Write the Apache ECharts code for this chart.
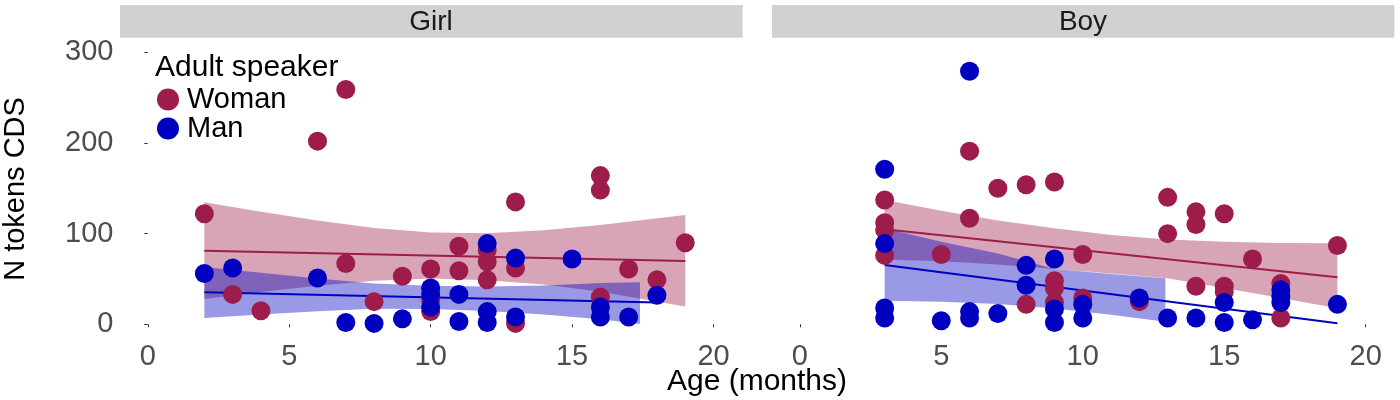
<!DOCTYPE html>
<html>
<head>
<meta charset="utf-8">
<script src="https://cdn.jsdelivr.net/npm/echarts@6/dist/echarts.min.js"></script>
<style>html,body{margin:0;padding:0;background:#fff}#c{width:1400px;height:400px}</style>
</head>
<body>
<div id="c"></div>
<script>
// ---------- data ----------
const panels = ['Girl', 'Boy'];
const speakers = ['Woman', 'Man'];
const xTicks = [0, 5, 10, 15, 20];
const yTicks = [0, 100, 200, 300];

// points [age, tokens]
const girlWoman = [[2,122],[3,33],[4,15],[6,202],[7,259],[7,67],[8,25],[9,53],[10,61],[10,27],[10,14],[11,86],[11,59],[12,82],[12,69],[12,49],[13,135],[13,62],[13,1],[16,164],[16,148],[16,30],[17,61],[18,49],[19,90]];
const girlMan = [[2,56],[3,62],[6,51],[7,2],[8,1],[9,6],[10,40],[10,33],[10,19],[11,33],[11,3],[12,89],[12,14],[12,2],[13,73],[13,8],[15,72],[16,19],[16,8],[17,8],[18,32]];
const boyWoman = [[3,137],[3,112],[3,104],[3,76],[5,77],[6,191],[6,117],[7,150],[8,154],[8,22],[9,157],[9,48],[9,40],[9,24],[10,77],[10,29],[12,25],[13,140],[13,100],[14,124],[14,110],[14,42],[15,122],[15,42],[15,36],[16,72],[17,45],[17,7],[19,87]];
const boyMan = [[3,171],[3,89],[3,18],[3,7],[5,4],[6,279],[6,14],[6,7],[7,12],[8,65],[8,43],[9,72],[9,17],[9,2],[10,22],[10,7],[12,29],[13,7],[14,7],[15,24],[15,2],[16,5],[17,38],[17,31],[17,24],[19,22]];

// fitted lines (end points)
const girlWomanFit = [[2,81.2],[19,69.8]];
const girlManFit = [[2,35.3],[18,24.1]];
const boyWomanFit = [[3,104.8],[19,52]];
const boyManFit = [[3,65.4],[19,1.1]];

// confidence bands
const girlWomanBandX = [2,4,6,8,10,12,14,16,19];
const girlWomanBandLo = [27.9,35.6,42.6,48.1,50.6,48.6,44,36,19.5];
const girlWomanBandHi = [134.5,124.2,114.4,106.3,101.2,100.4,103.6,109.5,120.5];
const girlManBandX = [2,4,6,8,10,12,14,16,17.4];
const girlManBandLo = [7,10.9,14.5,17.1,16.9,14.8,10.9,5.5,0.4];
const girlManBandHi = [63.3,56.9,50.5,45.1,42.5,41.8,42.9,45.5,46.3];
const boyWomanBandX = [3,5,7,9,11,13,15,17,19];
const boyWomanBandLo = [71.5,69.5,66,61,56,50.7,40,29,17.6];
const boyWomanBandHi = [137,125.2,114.6,105.9,98.6,93.5,91,89.8,89.3];
const boyManBandX = [3,5,7,9,11,12.92];
const boyManBandLo = [26,25,22.5,17.5,10.5,2.9];
const boyManBandHi = [105.9,91,78,61,55.5,50.7];

// ---------- style ----------
const COL = { Woman: '#9E1C4B', Man: '#0000C0' };
const BAND = { Woman: 'rgba(158,28,75,0.4)', Man: 'rgba(0,0,192,0.4)' };
const FONT = '"Liberation Sans", Arial, Helvetica, sans-serif';

const data = {
  Girl: { Woman: { pts: girlWoman, fit: girlWomanFit, bx: girlWomanBandX, lo: girlWomanBandLo, hi: girlWomanBandHi },
          Man:   { pts: girlMan,   fit: girlManFit,   bx: girlManBandX,   lo: girlManBandLo,   hi: girlManBandHi } },
  Boy:  { Woman: { pts: boyWoman,  fit: boyWomanFit,  bx: boyWomanBandX,  lo: boyWomanBandLo,  hi: boyWomanBandHi },
          Man:   { pts: boyMan,    fit: boyManFit,    bx: boyManBandX,    lo: boyManBandLo,    hi: boyManBandHi } }
};

const gridTop = 38.7, gridH = 299.2;
const grids = [
  { left: 119.5, top: gridTop, width: 622.3, height: gridH },
  { left: 771.5, top: gridTop, width: 622.5, height: gridH }
];

const xAxes = grids.map((g, i) => ({
  type: 'value', gridIndex: i, min: -1, max: 21,
  splitLine: { show: false },
  axisLine: { show: false },
  axisTick: { show: true, length: 3, lineStyle: { color: '#333', width: 1 }, customValues: xTicks },
  axisLabel: { fontSize: 29, color: '#4d4d4d', fontFamily: FONT, margin: 5, customValues: xTicks }
}));
const yAxes = grids.map((g, i) => ({
  type: 'value', gridIndex: i, min: -15, max: 315,
  splitLine: { show: false },
  axisLine: { show: false },
  axisTick: { show: i === 0, length: 3.5, lineStyle: { color: '#333', width: 1 }, customValues: yTicks },
  axisLabel: { show: i === 0, fontSize: 29, color: '#4d4d4d', fontFamily: FONT, margin: 6, customValues: yTicks }
}));

function bandSeries(gi, d, color) {
  const rows = d.bx.map((x, k) => [x, d.lo[k], d.hi[k]]);
  return {
    type: 'custom', xAxisIndex: gi, yAxisIndex: gi, silent: true, z: 1, animation: false,
    data: rows,
    encode: { x: 0, y: [1, 2] },
    renderItem: function (params, api) {
      if (params.dataIndex !== 0) return null;
      const upper = rows.map(r => api.coord([r[0], r[2]]));
      const lower = rows.map(r => api.coord([r[0], r[1]])).reverse();
      return { type: 'polygon', shape: { points: upper.concat(lower) }, style: { fill: color } };
    }
  };
}

const series = [];
panels.forEach((p, gi) => {
  speakers.forEach(s => series.push(bandSeries(gi, data[p][s], BAND[s])));
  speakers.forEach(s => {
    series.push({
      type: 'line', name: 'fit_' + p + '_' + s, xAxisIndex: gi, yAxisIndex: gi,
      data: data[p][s].fit, symbol: 'none',
      lineStyle: { color: COL[s], width: 2 }, silent: true, z: 2, animation: false
    });
  });
  speakers.forEach(s => {
    series.push({
      type: 'scatter', name: s, xAxisIndex: gi, yAxisIndex: gi,
      data: data[p][s].pts, symbol: 'circle', symbolSize: 19,
      itemStyle: { color: COL[s], opacity: 1 }, z: 3, animation: false
    });
  });
});

const graphic = [
  { type: 'rect', shape: { x: 120, y: 5, width: 622.7, height: 32.7 }, style: { fill: '#D1D1D1' }, silent: true },
  { type: 'rect', shape: { x: 772, y: 5, width: 622.3, height: 32.7 }, style: { fill: '#D1D1D1' }, silent: true },
  { type: 'text', x: 431, y: 22, style: { text: panels[0], font: '28px ' + FONT, fill: '#1a1a1a', align: 'center', verticalAlign: 'middle' } },
  { type: 'text', x: 1083, y: 22, style: { text: panels[1], font: '28px ' + FONT, fill: '#1a1a1a', align: 'center', verticalAlign: 'middle' } },
  { type: 'text', x: 16, y: 189, rotation: Math.PI / 2, style: { text: 'N tokens CDS', font: '29px ' + FONT, fill: '#000', align: 'center', verticalAlign: 'middle' } },
  { type: 'text', x: 757, y: 382, style: { text: 'Age (months)', font: '30px ' + FONT, fill: '#000', align: 'center', verticalAlign: 'middle' } },
  { type: 'text', x: 155, y: 68, style: { text: 'Adult speaker', font: '30px ' + FONT, fill: '#000', align: 'left', verticalAlign: 'middle' } }
];

const chart = echarts.init(document.getElementById('c'), null, { renderer: 'canvas' });
chart.setOption({
  animation: false,
  backgroundColor: '#fff',
  grid: grids,
  xAxis: xAxes,
  yAxis: yAxes,
  legend: {
    data: speakers, orient: 'vertical', left: 157, top: 85, padding: 0,
    itemWidth: 22, itemHeight: 22, itemGap: 0, icon: 'circle',
    textStyle: { fontSize: 29, color: '#000', fontFamily: FONT, padding: [0, 0, 0, 3] },
    selectedMode: false
  },
  graphic: graphic,
  series: series
});
</script>
</body>
</html>
